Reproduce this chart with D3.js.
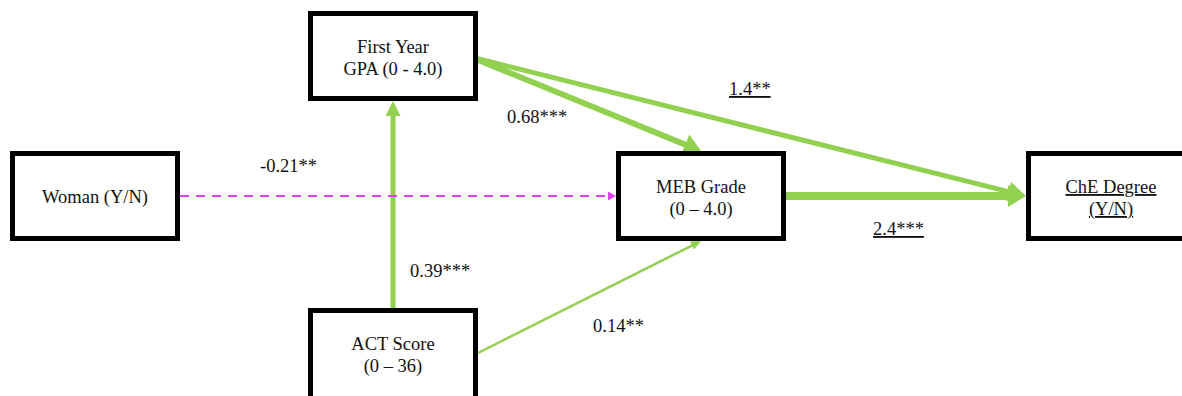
<!DOCTYPE html>
<html>
<head>
<meta charset="utf-8">
<script src="https://cdn.jsdelivr.net/npm/d3@7"></script>
<style>
  html, body { margin: 0; padding: 0; background: #fff; }
  svg { display: block; }
</style>
</head>
<body>
<svg id="chart" width="1182" height="396"></svg>
<script>
// ---------- DATA ----------
const nodeIds = ["woman", "gpa", "act", "meb", "che"];
const nodeLines = [
  ["Woman (Y/N)"],
  ["First Year", "GPA (0 - 4.0)"],
  ["ACT Score", "(0 \u2013 36)"],
  ["MEB Grade", "(0 \u2013 4.0)"],
  ["ChE Degree", "(Y/N)"]
];
const nodeColumn = [0, 1, 1, 2, 3];
const nodeRow = [1, 0, 2, 1, 1];
const nodeUnderlined = [false, false, false, false, true];

const edgeFrom = ["act", "gpa", "gpa", "meb", "woman", "act"];
const edgeTo   = ["gpa", "meb", "che", "che", "meb", "meb"];
const edgeCoef = [0.39, 0.68, 1.4, 2.4, -0.21, 0.14];
const edgeStars = ["***", "***", "**", "***", "**", "**"];
const edgeUnderlined = [false, false, true, true, false, false];

// ---------- FONT PICK ----------
function pickFont() {
  const c = document.createElement("canvas").getContext("2d");
  const sample = "Woman First Year GPA MEB Grade abcdefghijklmnopqrstuvwxyz 0123456789";
  const w = f => { c.font = "40px " + f; return c.measureText(sample).width; };
  const mono = w("monospace"), sans = w("sans-serif");
  const cands = ["Liberation Serif", "Tinos", "Times New Roman", "Nimbus Roman", "FreeSerif", "Noto Serif", "DejaVu Serif"];
  for (const f of cands) {
    const a = w(`"${f}", monospace`), b = w(`"${f}", sans-serif`);
    if (Math.abs(a - mono) > 0.5 && Math.abs(a - b) < 0.5) return `"${f}"`;
  }
  return "serif";
}
const fontFamily = pickFont() + ", serif";

// ---------- LAYOUT ----------
const svg = d3.select("#chart")
  .attr("font-family", fontFamily).attr("font-size", 18.5);
const colX = d3.scaleOrdinal().domain([0, 1, 2, 3]).range([95, 393, 701, 1111]);
const rowY = d3.scaleOrdinal().domain([0, 1, 2]).range([56, 196, 353]);
const boxW = 170, boxH = 90, border = 5;
const green = "#92d050", magenta = "#e040f0";
const fmt = v => d3.format(".2~f")(v).replace("\u2212", "-");

const nodes = nodeIds.map((id, i) => ({
  id, lines: nodeLines[i], cx: colX(nodeColumn[i]), cy: rowY(nodeRow[i]), ul: nodeUnderlined[i],
  extraBottom: nodeRow[i] === 2 ? 20 : 0
}));
const byId = Object.fromEntries(nodes.map(n => [n.id, n]));

function port(n, side) {
  if (side === "top") return [n.cx, n.cy - boxH / 2];
  if (side === "bottom") return [n.cx, n.cy + boxH / 2];
  if (side === "left") return [n.cx - boxW / 2, n.cy];
  if (side === "rightIn") return [n.cx + boxW / 2 - 7, n.cy + 1];
  return [n.cx + boxW / 2, n.cy];
}
const edgeStyle = [
  { s: "top", t: "bottom", w: 5, hl: 15, hw: 15, color: green, lx: 410, ly: 277 },
  { s: "rightIn", t: "top", w: 6, hl: 17, hw: 22, color: green, lx: 507, ly: 123 },
  { s: "rightIn", t: "left", w: 5, hl: 18, hw: 20, color: green, lx: 729, ly: 95 },
  { s: "right", t: "left", w: 8, hl: 18, hw: 22, color: green, lx: 873, ly: 235 },
  { s: "right", t: "left", w: 2, hl: 8, hw: 9, color: magenta, dash: "9,7", lx: 260, ly: 172 },
  { s: "right", t: "bottom", w: 2.5, hl: 10, hw: 9, color: green, lx: 593, ly: 332 }
];

const edges = edgeFrom.map((f, i) => {
  const st = edgeStyle[i];
  const p0 = port(byId[f], st.s), p1 = port(byId[edgeTo[i]], st.t);
  return { p0, p1, st, label: fmt(edgeCoef[i]) + edgeStars[i], ul: edgeUnderlined[i] };
});

// ---------- EDGES ----------
const eg = svg.append("g");
edges.forEach(e => {
  const [x0, y0] = e.p0, [x1, y1] = e.p1;
  const dx = x1 - x0, dy = y1 - y0, L = Math.hypot(dx, dy);
  const ux = dx / L, uy = dy / L, px = -uy, py = ux;
  const bx = x1 - ux * e.st.hl, by = y1 - uy * e.st.hl;
  eg.append("line")
    .attr("x1", x0).attr("y1", y0)
    .attr("x2", bx + ux * 1).attr("y2", by + uy * 1)
    .attr("stroke", e.st.color).attr("stroke-width", e.st.w)
    .attr("stroke-dasharray", e.st.dash || null);
  const h = e.st.hw / 2;
  eg.append("polygon")
    .attr("points", [[x1, y1], [bx + px * h, by + py * h], [bx - px * h, by - py * h]].map(p => p.join(",")).join(" "))
    .attr("fill", e.st.color);
});

// ---------- NODES ----------
const ng = svg.append("g").selectAll("g").data(nodes).join("g");
ng.append("rect")
  .attr("x", d => d.cx - boxW / 2 + border / 2)
  .attr("y", d => d.cy - boxH / 2 + border / 2)
  .attr("width", boxW - border).attr("height", d => boxH - border + d.extraBottom)
  .attr("fill", "#fff").attr("stroke", "#000").attr("stroke-width", border);
ng.each(function (d) {
  const g = d3.select(this);
  const offs = d.lines.length === 1 ? [7] : [-3, 19];
  d.lines.forEach((ln, j) => {
    g.append("text")
      .attr("x", d.cx).attr("y", d.cy + offs[j])
      .attr("text-anchor", "middle")
      .attr("fill", "#111")
      .attr("text-decoration", d.ul ? "underline" : null)
      .text(ln);
  });
});

// ---------- LABELS ----------
svg.append("g").selectAll("text").data(edges).join("text")
  .attr("x", d => d.st.lx).attr("y", d => d.st.ly)
  .attr("fill", "#111")
  .attr("text-decoration", d => d.ul ? "underline" : null)
  .text(d => d.label);
</script>
</body>
</html>
